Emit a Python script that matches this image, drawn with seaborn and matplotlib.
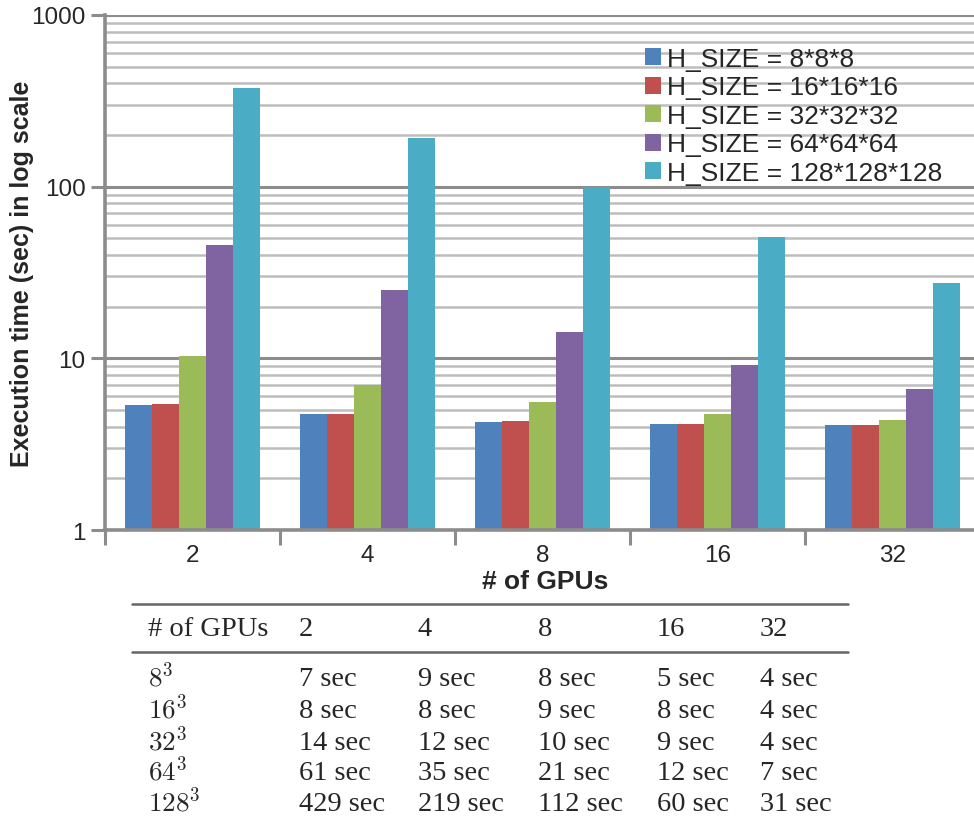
import numpy as np
import pandas as pd
import seaborn as sns
import matplotlib
matplotlib.use("Agg")
import matplotlib.pyplot as plt
from matplotlib.lines import Line2D
from matplotlib.ticker import FixedLocator, NullFormatter

# ---- data ----
gpus = ["2", "4", "8", "16", "32"]
sizes = ["H_SIZE = 8*8*8", "H_SIZE = 16*16*16", "H_SIZE = 32*32*32",
         "H_SIZE = 64*64*64", "H_SIZE = 128*128*128"]
t_8 = [5.35, 4.75, 4.25, 4.15, 4.1]
t_16 = [5.4, 4.75, 4.3, 4.15, 4.1]
t_32 = [10.3, 7.0, 5.6, 4.75, 4.35]
t_64 = [45.9, 25.1, 14.3, 9.2, 6.6]
t_128 = [378, 193, 100, 51, 27.6]
colors = ["#4F81BD", "#C0504D", "#9BBB59", "#8064A2", "#4BACC6"]

table_header = ["# of GPUs", "2", "4", "8", "16", "32"]
table_rows = [r"$8^3$", r"$16^3$", r"$32^3$", r"$64^3$", r"$128^3$"]
table_vals = [
    ["7 sec", "9 sec", "8 sec", "5 sec", "4 sec"],
    ["8 sec", "8 sec", "9 sec", "8 sec", "4 sec"],
    ["14 sec", "12 sec", "10 sec", "9 sec", "4 sec"],
    ["61 sec", "35 sec", "21 sec", "12 sec", "7 sec"],
    ["429 sec", "219 sec", "112 sec", "60 sec", "31 sec"],
]

series = [t_8, t_16, t_32, t_64, t_128]
df = pd.DataFrame({
    "gpus": [g for s in series for g in gpus],
    "time": [v for s in series for v in s],
    "size": [sz for sz, s in zip(sizes, series) for _ in s],
})

sns.set_theme(style="white")
plt.rcParams["font.family"] = ["Liberation Sans", "DejaVu Sans"]
plt.rcParams["mathtext.fontset"] = "cm"

W, H = 974, 829
fig = plt.figure(figsize=(W / 100, H / 100), dpi=100)
ax_left, ax_right, ax_top, ax_bot = 105, 974, 16, 531
ax = fig.add_axes([ax_left / W, 1 - ax_bot / H, (ax_right - ax_left) / W, (ax_bot - ax_top) / H])

sns.barplot(data=df, x="gpus", y="time", hue="size", palette=colors,
            order=gpus, hue_order=sizes, width=0.766, linewidth=0,
            saturation=1, ax=ax, legend=True)
ax.set_yscale("log")
ax.set_ylim(1, 1000)
ax.set_xlim(-0.5, -0.5 + 5 * (ax_right - ax_left) / 875)

grid_major = "#8c8c8c"
grid_minor = "#bdbdbd"
ax.yaxis.set_major_locator(FixedLocator([1, 10, 100, 1000]))
ax.yaxis.set_minor_locator(FixedLocator([m * 10 ** e for e in range(0, 3) for m in range(2, 10)]))
ax.yaxis.set_minor_formatter(NullFormatter())
ax.set_yticklabels(["1", "10", "100", "1000"])
ax.grid(True, which="major", axis="y", color=grid_major, linewidth=2.2, zorder=0)
ax.grid(True, which="minor", axis="y", color=grid_minor, linewidth=1.8, zorder=0)
ax.set_axisbelow(True)

ax.set_xticks(range(5))
ax.set_xticklabels(gpus)
ax.set_xticks([-0.5, 0.5, 1.5, 2.5, 3.5], minor=True)
ax.tick_params(axis="x", which="major", length=0, labelsize=17.5, pad=10)
ax.tick_params(axis="x", which="minor", length=11, width=2.2, color=grid_major, direction="out", bottom=True)
ax.tick_params(axis="y", which="major", length=10, width=2.2, color=grid_major, direction="out", labelsize=17.5, left=True, pad=4)
ax.tick_params(axis="y", which="minor", length=0)

for side in ["top", "right"]:
    ax.spines[side].set_visible(False)
for side in ["left", "bottom"]:
    ax.spines[side].set_color(grid_major)
    ax.spines[side].set_linewidth(2.6)

ax.set_xlabel("# of GPUs", fontsize=19, fontweight="bold")
ax.xaxis.set_label_coords((545 - ax_left) / (ax_right - ax_left), -(582 - ax_bot) / (ax_bot - ax_top))
ax.xaxis.label.set_va("center")
ax.set_ylabel("Execution time (sec) in log scale", fontsize=18, fontweight="bold")
ax.yaxis.set_label_coords(-(ax_left - 22) / (ax_right - ax_left), 0.5)
ax.yaxis.label.set_va("center")

leg = ax.legend(loc="upper left", bbox_to_anchor=(645 / W, 1 - 48 / H),
                bbox_transform=fig.transFigure, frameon=False, fontsize=19,
                handlelength=0.62, handleheight=0.62, handletextpad=0.2,
                labelspacing=0.17, borderpad=0, borderaxespad=0)

# ---- table ----
serif = ["Liberation Serif", "DejaVu Serif"]
def fx(px):
    return px / W
def fy(py):
    return 1 - py / H

col_x = [148, 299, 418, 538, 657, 760]
line_kw = dict(color="#666666", linewidth=1.8, transform=fig.transFigure)
fig.add_artist(Line2D([fx(132), fx(848)], [fy(605), fy(605)], **line_kw))
fig.add_artist(Line2D([fx(132), fx(848)], [fy(653), fy(653)], **line_kw))
for x, txt in zip(col_x, table_header):
    fig.text(fx(x), fy(636), txt, family=serif, fontsize=20.5, va="baseline", ha="left")
row_base = [686, 718, 750, 780, 811]
for y, lab, vals in zip(row_base, table_rows, table_vals):
    fig.text(fx(col_x[0]), fy(y), lab, fontsize=19.5, va="baseline", ha="left")
    for x, v in zip(col_x[1:], vals):
        fig.text(fx(x), fy(y), v, family=serif, fontsize=20.5, va="baseline", ha="left")

fig.savefig("out.png", dpi=100)
